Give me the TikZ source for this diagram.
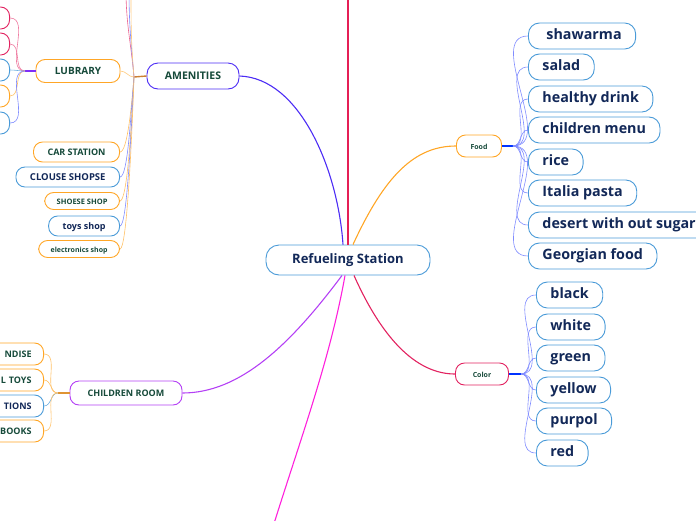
\documentclass[tikz,border=0pt]{standalone}
\usepackage{fontspec}
\setmainfont{Open Sans}
\usetikzlibrary{positioning}
\definecolor{navyink}{RGB}{18,40,88}
\definecolor{pineink}{RGB}{22,74,58}
\definecolor{skyline}{RGB}{74,155,216}
\definecolor{amber}{RGB}{255,166,38}
\definecolor{crimson}{RGB}{226,34,96}
\definecolor{bluevio}{RGB}{76,44,245}
\definecolor{orchid}{RGB}{180,64,245}
\definecolor{hotpink}{RGB}{255,32,220}
\definecolor{twig}{RGB}{128,140,255}
\newcommand{\fsz}[1]{\fontsize{#1}{#1}\selectfont}
\tikzset{
  topic/.style={draw, rounded corners=9pt, line width=0.9pt, fill=white, font=\bfseries, minimum height=22pt, inner ysep=0pt, inner xsep=14pt, text height=0.8em, text depth=0.04em},
  leaf/.style={topic, minimum height=26pt, rounded corners=11pt, text=navyink, draw=skyline, font=\bfseries\fsz{14.3}},
  branch/.style={line width=1.1pt},
  twigline/.style={line width=0.6pt}
}

\begin{document}
\begin{tikzpicture}[x=1pt, y=-1pt]
  \useasboundingbox (0,0) rectangle (696,520);
  \clip (0,0) rectangle (696,520);

  % main topic
  \node [topic, draw=skyline, text=navyink, font=\bfseries\fsz{13}, minimum width=164pt, minimum height=30pt, rounded corners=13pt] (root) at (348,260) {Refueling Station};

  % first level
  \node [topic, draw=bluevio, text=pineink, font=\bfseries\fsz{10.5}, minimum width=92pt, minimum height=26pt, rounded corners=11pt] (amenities) at (193,76) {AMENITIES};
  \node [topic, draw=amber, text=pineink, font=\bfseries\fsz{7}, minimum width=45pt] (food) at (479,146) {Food};
  \node [topic, draw=crimson, text=pineink, font=\bfseries\fsz{7}, minimum width=53pt] (color) at (482,374) {Color};
  \node [topic, draw=orchid, text=pineink, font=\bfseries\fsz{9}, minimum width=112pt, minimum height=24pt] (childroom) at (126,393) {CHILDREN ROOM};
  \coordinate (top) at (348,-10);
  \coordinate (bottom) at (272,530);

  % amenities
  \node [topic, draw=amber, text=pineink, font=\bfseries\fsz{10}, minimum width=84pt, minimum height=23pt] (library) at (78,71) {LUBRARY};
  \node [topic, draw=amber, text=pineink, font=\bfseries\fsz{9}, anchor=east, minimum height=20pt] (carstation) at (120,152) {CAR STATION};
  \node [topic, draw=skyline, text=navyink, font=\bfseries\fsz{9.5}, anchor=east, minimum height=20pt] (clothes) at (120,177) {CLOUSE SHOPSE};
  \node [topic, draw=amber, text=pineink, font=\bfseries\fsz{7.5}, anchor=east, minimum height=17pt, inner xsep=12pt] (shoes) at (120,201) {SHOESE SHOP};
  \node [topic, draw=skyline, text=navyink, font=\bfseries\fsz{9}, anchor=east, minimum height=20pt] (toys) at (120,226) {toys shop};
  \node [topic, draw=amber, text=pineink, font=\bfseries\fsz{7}, anchor=east, minimum height=17pt, inner xsep=12pt] (electronics) at (120,249) {electronics shop};
  \coordinate (upa) at (126,-10);
  \coordinate (upb) at (129,-10);
  \coordinate (upc) at (131,-10);

  % library
  \node [topic, draw=crimson, anchor=east, minimum width=60pt] (libA) at (10,18) {};
  \node [topic, draw=crimson, anchor=east, minimum width=60pt] (libB) at (10,44) {};
  \node [topic, draw=skyline, anchor=east, minimum width=60pt] (libC) at (10,70) {};
  \node [topic, draw=amber, anchor=east, minimum width=60pt] (libD) at (10,96) {};
  \node [topic, draw=skyline, anchor=east, minimum width=60pt] (libE) at (10,123) {};

  % food
  \node [leaf, anchor=west] (shawarma) at (528,36) {\hspace{4pt}shawarma\hspace{4pt}};
  \node [leaf, anchor=west] (salad) at (528,67) {salad};
  \node [leaf, anchor=west] (drink) at (528,99) {healthy drink};
  \node [leaf, anchor=west] (menu) at (528,130) {children menu};
  \node [leaf, anchor=west] (rice) at (528,162) {rice};
  \node [leaf, anchor=west] (pasta) at (528,193) {Italia pasta};
  \node [leaf, anchor=west] (desert) at (528,225) {desert with out sugar};
  \node [leaf, anchor=west] (georgian) at (528,256) {Georgian food};

  % color
  \node [leaf, anchor=west] (black) at (536,295) {black};
  \node [leaf, anchor=west] (white) at (536,327) {white};
  \node [leaf, anchor=west] (green) at (536,358) {green};
  \node [leaf, anchor=west] (yellow) at (536,390) {yellow};
  \node [leaf, anchor=west] (purpol) at (536,421) {purpol};
  \node [leaf, anchor=west] (red) at (536,453) {red};

  % children room
  \node [topic, draw=amber, text=pineink, font=\bfseries\fsz{9}, anchor=east, text width=60pt, align=right, inner xsep=12pt] (merch) at (44,354) {NDISE};
  \node [topic, draw=amber, text=pineink, font=\bfseries\fsz{9}, anchor=east, text width=60pt, align=right, inner xsep=12pt] (ltoys) at (44,380) {L TOYS};
  \node [topic, draw=skyline, text=navyink, font=\bfseries\fsz{9}, anchor=east, text width=60pt, align=right, inner xsep=12pt] (tions) at (44,406) {TIONS};
  \node [topic, draw=amber, text=pineink, font=\bfseries\fsz{9}, anchor=east, text width=60pt, align=right, inner xsep=12pt] (books) at (44,431) {BOOKS};

  % main branches
  \draw [branch, bluevio] (amenities.east) .. controls (300,78) and (338,170) .. ([xshift=-5pt]root.north);
  \draw [branch, crimson!90!red] (top) -- (root.north);
  \draw [branch, amber] ([xshift=5pt]root.north) .. controls (385,175) and (415,146) .. (food.west);
  \draw [branch, crimson] ([xshift=6pt]root.south) .. controls (385,345) and (420,374) .. (color.west);
  \draw [branch, orchid] ([xshift=-6pt]root.south) .. controls (290,345) and (240,393) .. (childroom.east);
  \draw [branch, hotpink] ([xshift=-3pt]root.south) .. controls (330,360) and (300,440) .. (bottom);

  % junctions
  \coordinate (jame) at (134,77);
  \coordinate (jlib) at (25,71);
  \coordinate (jfood) at (513,146);
  \coordinate (jcolor) at (521,374);
  \coordinate (jchild) at (58,393);
  \draw [line width=1.4pt, brown!80!orange] (amenities.west) -- (jame);
  \draw [line width=1.4pt, orchid!70!blue] (library.west) -- (jlib);
  \draw [line width=1.4pt, blue!80!cyan] (food.east) -- (jfood);
  \draw [line width=1.4pt, blue!80!cyan] (color.east) -- (jcolor);
  \draw [line width=1.4pt, brown!50!amber] (childroom.west) -- (jchild);

  % twigs
  \draw [twigline, crimson!70] (jame) to[out=95, in=-90] (upa);
  \draw [twigline, twig] (jame) to[out=95, in=-90] (upb);
  \draw [twigline, amber!60] (jame) to[out=95, in=-90] (upc);
  \draw [twigline, amber!60] (jame) to[out=180, in=0] (library.east);
  \draw [twigline, amber!70] (jame) to[out=-95, in=0, in looseness=0.25] (carstation.east);
  \draw [twigline, twig] (jame) to[out=-95, in=0, in looseness=0.2] (clothes.east);
  \draw [twigline, amber!70] (jame) to[out=-93, in=0, in looseness=0.15] (shoes.east);
  \draw [twigline, twig] (jame) to[out=-93, in=0, in looseness=0.12] (toys.east);
  \draw [twigline, amber!70] (jame) to[out=-92, in=0, in looseness=0.1] (electronics.east);

  \draw [twigline, crimson!60] (jlib) to[out=180, in=0] (libA.east);
  \draw [twigline, crimson!60] (jlib) to[out=180, in=0] (libB.east);
  \draw [twigline, skyline!80] (jlib) to[out=180, in=0] (libC.east);
  \draw [twigline, amber!70] (jlib) to[out=180, in=0] (libD.east);
  \draw [twigline, twig] (jlib) to[out=180, in=0] (libE.east);

  \foreach \leafname in {shawarma, salad, drink, menu, rice, pasta, desert, georgian}
    \draw [twigline, twig] (jfood) to[out=0, in=180] (\leafname.west);
  \foreach \leafname in {black, white, green, yellow, purpol, red}
    \draw [twigline, twig] (jcolor) to[out=0, in=180] (\leafname.west);

  \draw [twigline, amber!70] (jchild) to[out=180, in=0] (merch.east);
  \draw [twigline, amber!70] (jchild) to[out=180, in=0] (ltoys.east);
  \draw [twigline, skyline!80] (jchild) to[out=180, in=0] (tions.east);
  \draw [twigline, amber!70] (jchild) to[out=180, in=0] (books.east);
\end{tikzpicture}
\end{document}
